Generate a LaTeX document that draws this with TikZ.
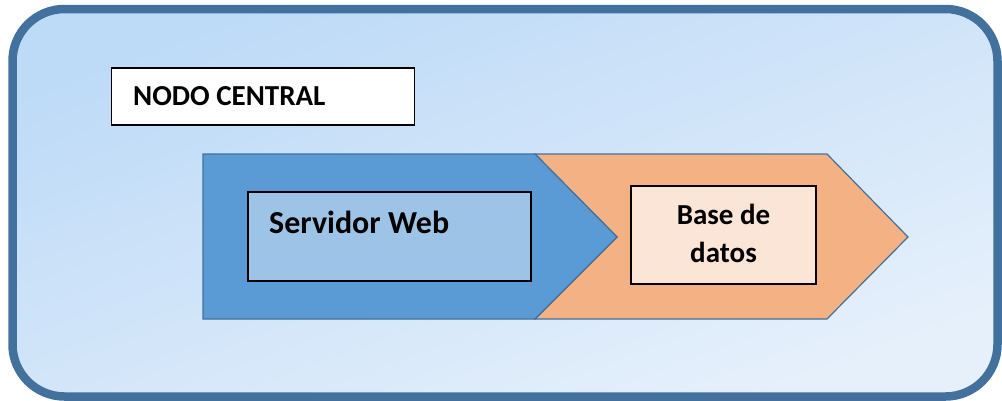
\documentclass[tikz,border=0pt]{standalone}
\usepackage{fontspec}
\setmainfont{Carlito}
\definecolor{frame}{HTML}{41719C}
\definecolor{bgA}{HTML}{BDDAF7}
\definecolor{bgB}{HTML}{E6F0FB}
\definecolor{chevblue}{HTML}{5B9BD5}
\definecolor{boxblue}{HTML}{9DC3E6}
\definecolor{chevorange}{HTML}{F4B183}
\definecolor{boxorange}{HTML}{FBE5D6}
\tikzset{
  chev/.style={draw=frame, line width=1.2pt, line join=miter},
  innerbox/.style={draw=black, line width=1.5pt, inner sep=0pt},
  lbl/.style={font=\bfseries, text=black, inner sep=0pt}
}
\begin{document}
\begin{tikzpicture}[x=1pt,y=-1pt]
\useasboundingbox (0,0) rectangle (1002,400);
% outer frame
\draw[frame, line width=8.5pt, rounded corners=52pt, top color=bgA, bottom color=bgB, shading angle=20]
  (12.5,9) rectangle (997.5,396.5);
% title box
\node[draw=black, line width=1.2pt, fill=white, minimum width=303pt, minimum height=57pt, inner sep=0pt] (title) at (263,96.5) {};
\node[lbl, anchor=base west, font=\fontsize{29}{34}\selectfont\bfseries] (titletext) at (133,105) {NODO CENTRAL};
% orange chevron
\draw[chev, fill=chevorange] (535,154) -- (827,154) -- (908,237) -- (827,319) -- (535,319) -- (617,237) -- cycle;
% blue pentagon
\draw[chev, fill=chevblue] (203,154) -- (535,154) -- (617,237) -- (535,319) -- (203,319) -- cycle;
% inner boxes
\node[innerbox, fill=boxblue, minimum width=283pt, minimum height=89pt] (web) at (389.5,236.5) {};
\node[lbl, anchor=base west, font=\fontsize{32}{38}\selectfont\bfseries] (webtext) at (269,233) {Servidor Web};
\node[innerbox, fill=boxorange, minimum width=185pt, minimum height=98pt] (db) at (723.5,235) {};
\node[lbl, align=center, font=\fontsize{29}{38}\selectfont\bfseries, anchor=base] (dbtext) at (723.5,262) {Base de\\datos};
\end{tikzpicture}
\end{document}
